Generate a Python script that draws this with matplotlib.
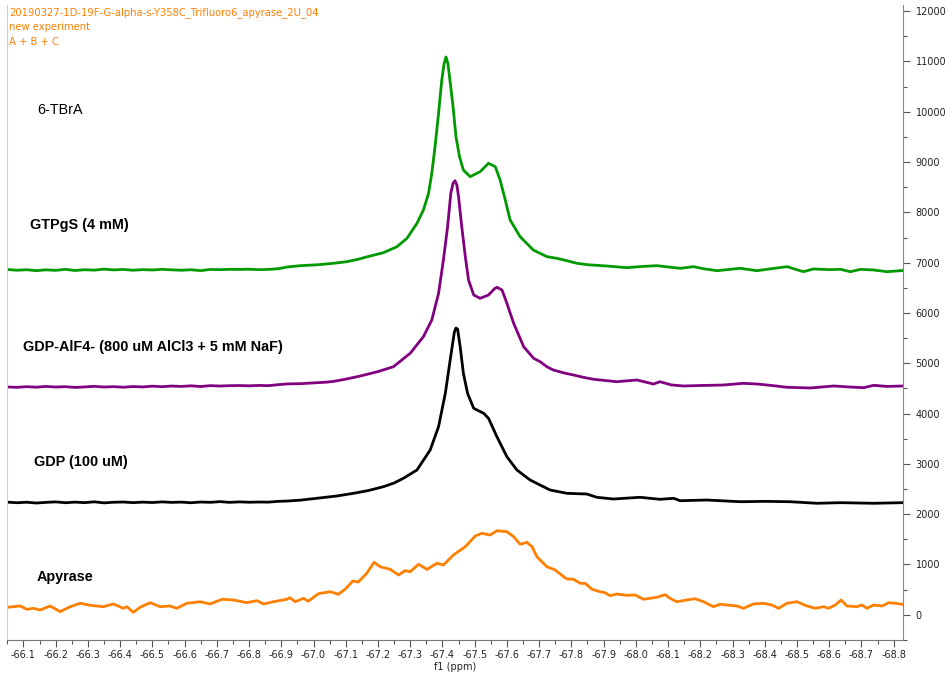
import matplotlib
matplotlib.use("Agg")
import matplotlib.pyplot as plt
from matplotlib.ticker import MultipleLocator, FormatStrFormatter

# header lines (orange, top-left)
header = ["20190327-1D-19F-G-alpha-s-Y358C_Trifluoro6_apyrase_2U_04",
          "new experiment",
          "A + B + C"]

# GTPgS trace (green)
green_ppm = [-66.049, -66.08, -66.11, -66.14, -66.17, -66.20, -66.23, -66.26, -66.29, -66.32,
             -66.35, -66.38, -66.41, -66.44, -66.47, -66.50, -66.53, -66.56, -66.59, -66.62,
             -66.65, -66.68, -66.71, -66.74, -66.77, -66.80, -66.83, -66.86, -66.89, -66.92,
             -66.958, -67.015, -67.062, -67.103, -67.140, -67.165, -67.217, -67.259, -67.290, -67.321,
             -67.341, -67.357, -67.367, -67.377, -67.388, -67.398, -67.405, -67.411, -67.417, -67.422,
             -67.433, -67.442, -67.453, -67.465, -67.486, -67.517, -67.543, -67.564, -67.579, -67.595,
             -67.610, -67.641, -67.682, -67.724, -67.755, -67.786, -67.817, -67.85, -67.91, -67.972,
             -68.02, -68.065, -68.10, -68.138, -68.179, -68.21, -68.252, -68.324, -68.376, -68.42,
             -68.469, -68.52, -68.551, -68.60, -68.635, -68.666, -68.697, -68.738, -68.779, -68.829]
green_val = [6865, 6850, 6860, 6842, 6858, 6848, 6868, 6845, 6860, 6852,
             6872, 6856, 6866, 6850, 6862, 6855, 6868, 6858, 6850, 6860,
             6842, 6866, 6862, 6868, 6866, 6870, 6862, 6866, 6880, 6915,
             6940, 6960, 6988, 7020, 7070, 7115, 7199, 7318, 7485, 7783,
             8047, 8379, 8777, 9306, 9970, 10632, 10950, 11090, 10960, 10697,
             10101, 9505, 9107, 8843, 8710, 8809, 8976, 8908, 8644, 8246,
             7849, 7517, 7252, 7120, 7087, 7040, 6988, 6960, 6934, 6901,
             6925, 6941, 6915, 6888, 6921, 6880, 6841, 6888, 6841, 6880,
             6921, 6821, 6875, 6862, 6868, 6821, 6868, 6855, 6821, 6845]

# GDP-AlF4- trace (purple)
purple_ppm = [-66.049, -66.08, -66.11, -66.14, -66.17, -66.20, -66.23, -66.26, -66.29, -66.32,
              -66.35, -66.38, -66.41, -66.44, -66.47, -66.50, -66.53, -66.56, -66.59, -66.62,
              -66.65, -66.68, -66.71, -66.74, -66.77, -66.80, -66.83, -66.86, -66.89, -66.92,
              -66.96, -67.00, -67.04, -67.062, -67.10, -67.145, -67.20, -67.248, -67.300, -67.341,
              -67.367, -67.388, -67.403, -67.416, -67.426, -67.433, -67.439, -67.445, -67.450, -67.460,
              -67.471, -67.481, -67.497, -67.517, -67.543, -67.561, -67.569, -67.585, -67.600, -67.621,
              -67.652, -67.683, -67.703, -67.724, -67.744, -67.776, -67.807, -67.838, -67.869, -67.941,
              -68.003, -68.055, -68.075, -68.110, -68.148, -68.210, -68.272, -68.334, -68.376, -68.420,
              -68.469, -68.541, -68.614, -68.660, -68.707, -68.738, -68.780, -68.829]
purple_val = [4530, 4522, 4535, 4525, 4540, 4528, 4535, 4520, 4530, 4542,
              4528, 4536, 4524, 4538, 4530, 4545, 4535, 4548, 4540, 4552,
              4538, 4556, 4548, 4555, 4558, 4552, 4560, 4555, 4575, 4590,
              4595, 4610, 4625, 4640, 4685, 4747, 4835, 4932, 5199, 5529,
              5861, 6391, 7053, 7715, 8380, 8580, 8630, 8540, 8312, 7715,
              7119, 6656, 6358, 6292, 6358, 6480, 6511, 6457, 6193, 5795,
              5330, 5099, 5032, 4932, 4867, 4810, 4767, 4720, 4682, 4634,
              4668, 4588, 4634, 4570, 4549, 4560, 4568, 4602, 4588, 4560,
              4523, 4509, 4549, 4530, 4515, 4562, 4540, 4549]

# GDP trace (black)
black_ppm = [-66.049, -66.08, -66.11, -66.14, -66.17, -66.20, -66.23, -66.26, -66.29, -66.32,
             -66.35, -66.38, -66.41, -66.44, -66.47, -66.50, -66.53, -66.56, -66.59, -66.62,
             -66.65, -66.68, -66.71, -66.74, -66.77, -66.80, -66.83, -66.86, -66.89, -66.92,
             -66.96, -67.010, -67.07, -67.124, -67.170, -67.217, -67.250, -67.279, -67.321, -67.362,
             -67.388, -67.409, -67.424, -67.437, -67.442, -67.447, -67.455, -67.465, -67.478, -67.497,
             -67.528, -67.543, -67.569, -67.600, -67.631, -67.672, -67.703, -67.734, -67.786, -67.848,
             -67.879, -67.930, -68.013, -68.075, -68.117, -68.138, -68.220, -68.324, -68.400, -68.479,
             -68.562, -68.635, -68.738, -68.829]
black_val = [2240, 2228, 2238, 2222, 2235, 2245, 2228, 2240, 2230, 2246,
             2225, 2238, 2242, 2230, 2240, 2232, 2245, 2235, 2240, 2228,
             2242, 2236, 2250, 2235, 2245, 2238, 2242, 2240, 2255, 2262,
             2280, 2316, 2360, 2415, 2470, 2547, 2620, 2714, 2879, 3276,
             3740, 4403, 5065, 5620, 5700, 5680, 5330, 4801, 4403, 4105,
             4006, 3906, 3541, 3143, 2879, 2680, 2580, 2481, 2415, 2401,
             2336, 2302, 2336, 2296, 2316, 2268, 2282, 2248, 2255, 2248,
             2217, 2229, 2217, 2229]

# Apyrase trace (orange)
orange_ppm = [-66.049, -66.090, -66.111, -66.131, -66.152, -66.183, -66.214, -66.245, -66.276, -66.307,
              -66.348, -66.379, -66.410, -66.421, -66.441, -66.462, -66.493, -66.524, -66.555, -66.576,
              -66.607, -66.648, -66.679, -66.716, -66.752, -66.793, -66.824, -66.845, -66.876, -66.917,
              -66.927, -66.943, -66.969, -66.984, -67.015, -67.052, -67.077, -67.098, -67.122, -67.139,
              -67.165, -67.188, -67.207, -67.238, -67.264, -67.284, -67.300, -67.326, -67.352, -67.383,
              -67.403, -67.434, -67.471, -67.502, -67.522, -67.548, -67.569, -67.600, -67.621, -67.641,
              -67.662, -67.678, -67.693, -67.724, -67.750, -67.776, -67.786, -67.807, -67.828, -67.843,
              -67.864, -67.889, -67.905, -67.920, -67.941, -67.972, -67.998, -68.024, -68.065, -68.091,
              -68.106, -68.127, -68.158, -68.184, -68.210, -68.241, -68.262, -68.314, -68.334, -68.365,
              -68.396, -68.422, -68.443, -68.469, -68.500, -68.531, -68.557, -68.583, -68.598, -68.619,
              -68.637, -68.655, -68.686, -68.702, -68.717, -68.738, -68.764, -68.785, -68.806, -68.826]
orange_val = [149, 175, 109, 129, 95, 175, 62, 161, 229, 189,
              161, 215, 129, 161, 50, 149, 241, 161, 175, 129,
              229, 260, 215, 308, 294, 241, 281, 215, 260, 308,
              340, 260, 328, 270, 420, 459, 408, 507, 672, 652,
              825, 1044, 956, 904, 791, 877, 857, 1004, 904, 1024,
              990, 1189, 1354, 1567, 1620, 1586, 1672, 1652, 1553, 1402,
              1441, 1354, 1155, 956, 891, 757, 712, 706, 625, 626,
              507, 459, 439, 380, 413, 388, 394, 308, 348, 400,
              328, 260, 294, 320, 260, 161, 209, 175, 129, 215,
              229, 195, 129, 229, 260, 175, 129, 161, 129, 195,
              294, 175, 161, 195, 129, 195, 175, 241, 229, 209]

# trace labels: text, ppm, intensity, bold
labels = [("6-TBrA", -66.1425, 10035, False),
          ("GTPgS (4 mM)", -66.121, 7749, True),
          ("GDP-AlF4- (800 uM AlCl3 + 5 mM NaF)", -66.10, 5324, True),
          ("GDP (100 uM)", -66.134, 3044, True),
          ("Apyrase", -66.142, 757, True)]

fig = plt.figure(figsize=(9.47, 6.79), dpi=100)
ax = fig.add_axes([7 / 947, 39 / 679, 896 / 947, 635 / 679])

lw = 2.0
ax.plot(green_ppm, green_val, color="#009900", lw=lw)
ax.plot(purple_ppm, purple_val, color="#800080", lw=lw)
ax.plot(black_ppm, black_val, color="black", lw=lw)
ax.plot(orange_ppm, orange_val, color="#ff8000", lw=lw)

ax.set_xlim(-66.049, -68.829)
ax.set_ylim(-501, 12123)

for txt, x, y, bold in labels:
    ax.text(x, y, txt, fontsize=10.4, family="Liberation Sans",
            fontweight="bold" if bold else "normal", va="center", ha="left")

for i, line in enumerate(header):
    fig.text(9 / 947, 1 - (13 + 14.5 * i) / 679, line, fontsize=7.2, color="#ff8000",
             va="center", ha="left")

# axes styling
ax.spines["top"].set_visible(False)
ax.spines["left"].set_color("#d0d0d0")
ax.spines["right"].set_color("#888888")
ax.spines["bottom"].set_color("#777777")
ax.yaxis.tick_right()
ax.xaxis.set_major_locator(MultipleLocator(0.1))
ax.xaxis.set_minor_locator(MultipleLocator(0.05))
ax.xaxis.set_major_formatter(FormatStrFormatter("%.1f"))
ax.yaxis.set_major_locator(MultipleLocator(1000))
ax.yaxis.set_minor_locator(MultipleLocator(500))
ax.tick_params(axis="both", which="major", length=5, width=0.8, color="#555555",
               labelsize=7, labelcolor="#222222", pad=2)
ax.tick_params(axis="both", which="minor", length=3, width=0.8, color="#555555")
ax.tick_params(axis="y", pad=4)
ax.set_xlabel("f1 (ppm)", fontsize=7, color="#222222", labelpad=2)

fig.savefig("out.png", dpi=100)
